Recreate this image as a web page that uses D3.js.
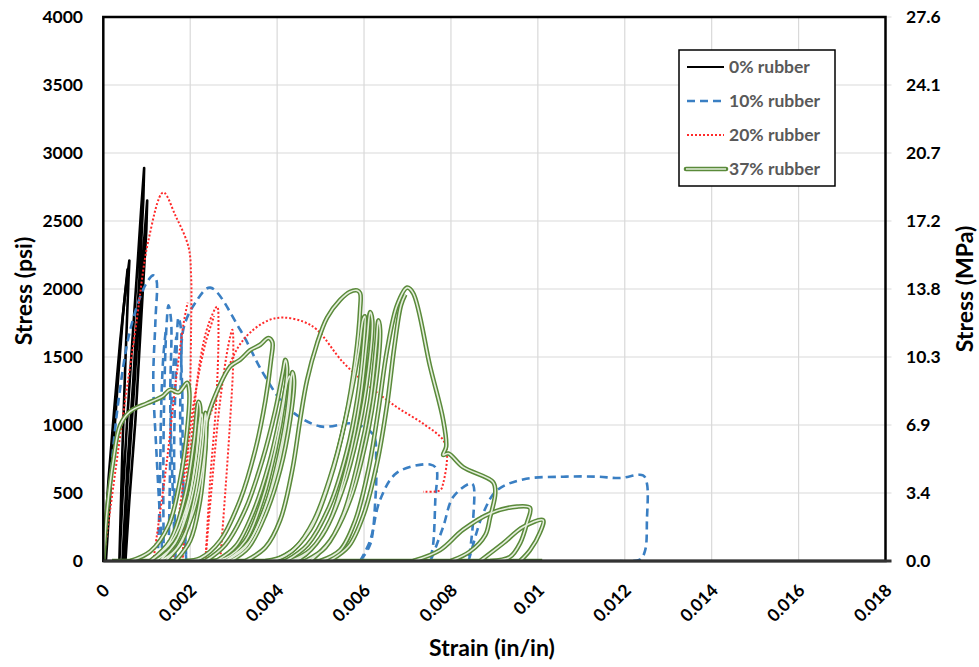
<!DOCTYPE html>
<html lang="en">
<head>
<meta charset="utf-8">
<title>Stress-strain curves</title>
<script src="https://cdn.jsdelivr.net/npm/d3@7"></script>
<style>
  body { margin: 0; background: #fff; }
  text { font-family: Lato, "Open Sans", sans-serif; font-weight: 700; }
</style>
</head>
<body>
<script>
var w = 979, h = 667;

// strain kept in microstrain, stress in psi
var strainTicks = [0, 2000, 4000, 6000, 8000, 10000, 12000, 14000, 16000, 18000];
var stressTicks = [0, 500, 1000, 1500, 2000, 2500, 3000, 3500, 4000];
var seriesNames = ["0% rubber", "10% rubber", "20% rubber", "37% rubber"];

var rubber0 = [
  [[0,0],[120,600],[250,1110],[390,1625],[510,1990],[600,2210],[580,2070],[510,1480],[440,820],[370,0],
   [440,450],[550,1040],[670,1625],[780,2140],[870,2580],[940,2890],[920,2650],[830,2070],[690,1330],[550,670],[440,0],
   [460,0],[550,520],[690,1180],[830,1850],[940,2360],[1010,2650],[990,2430],[870,1770],[740,1040],[600,450],[510,0]],
  [[60,0],[200,700],[330,1300],[450,1800],[560,2150]]
];

var rubber10 = [
  [[0,0],[160,600],[350,1180],[620,1700],[970,2030],[1150,2100],[1220,2070],[1200,1770],[1150,1330],[1220,820],[1310,300],[1380,0],
   [1380,600],[1400,1180],[1450,1700],[1500,1880],[1560,1770],[1540,1180],[1590,600],[1660,0],
   [1630,820],[1680,1480],[1730,1790],[1790,1700],[1770,1040],[1840,450],[1910,0],
   [1840,600],[1820,1180],[1840,1700],[2120,1900],[2460,2010],[3150,1700],[3680,1380],[4230,1130],[4990,990],[5750,1010],[6210,930],[6280,740],[6260,450],[6140,120],[5910,0]],
  [[5910,0],[6140,150],[6370,450],[6760,650],[7520,710],[7660,680],[7640,450],[7590,120],[7520,0],
   [7820,250],[8050,470],[8440,570],[8510,560],[8510,300],[8440,80],[8400,0],
   [8740,350],[9060,520],[9660,600],[10580,620],[11360,620],[11890,610],[12420,630],[12510,570],[12510,300],[12470,80],[12350,10],[11890,0]],
  [[1250,0],[1300,500],[1330,1100],[1380,1500],[1440,1700]],
  [[1500,0],[1530,550],[1560,1100],[1620,1450],[1680,1650]]
];

var rubber20 = [
  [[0,0],[160,380],[440,1040],[740,1700],[1040,2360],[1380,2710],[1660,2540],[1960,2310],[2020,2100],[2020,1700],[1980,1040],[1890,450],[1820,0]],
  [[1820,0],[1930,450],[2070,1040],[2230,1480],[2420,1740],[2620,1870],[2650,1700],[2600,1180],[2460,600],[2350,0]],
  [[2350,0],[2510,600],[2690,1180],[2880,1590],[2970,1700],[2990,1480],[2920,1040],[2810,520],[2690,0]],
  [[1470,0],[2000,600],[2400,1020],[2760,1330],[3100,1570],[3380,1680],[3800,1770],[4140,1790],[4600,1760],[4920,1700],[5520,1460],[6140,1280],[6760,1130],[7360,1010],[7820,890],[7910,790],[7820,570],[7750,520],[7360,510]],
  [[1150,0],[1450,700],[1680,1350],[1850,1750],[1940,1900]],
  [[1600,0],[1850,600],[2100,1200],[2350,1600],[2550,1800]]
];

var rubber37 = [
  [[200,0],[10100,0]],
  [[0,0],[90,380],[230,740],[390,1000],[620,1100],[1010,1160],[1360,1210],[1540,1260],[1730,1240],[1930,1310],[1980,1240],[1930,960],[1770,600],[1500,260],[1080,70],[620,0]],
  [[1080,0],[1540,150],[1890,490],[2090,890],[2190,1170],[2230,1130],[2160,820],[1960,450],[1590,150],[1080,0]],
  [[1200,0],[1650,130],[1950,420],[2130,760],[2230,1050],[2270,1080],[2210,800],[2020,450],[1700,160],[1300,0]],
  [[1430,0],[1820,150],[2120,490],[2280,850],[2350,1090],[2370,1000],[2280,670],[2050,340],[1660,80],[1310,0]],
  [[1660,0],[2000,150],[2230,450],[2350,820],[2390,1040],[2580,1220],[2920,1430],[3150,1480],[3380,1550],[3610,1590],[3800,1640],[3890,1610],[3860,1480],[3730,1180],[3500,820],[3150,450],[2690,150],[2230,20],[1890,0]],
  [[2350,0],[2810,120],[3270,380],[3660,740],[3960,1110],[4140,1400],[4190,1480],[4230,1420],[4160,1180],[3960,820],[3660,450],[3270,150],[2810,20],[2460,0]],
  [[2600,0],[3050,110],[3450,360],[3820,720],[4080,1080],[4240,1330],[4290,1360],[4250,1150],[4050,780],[3750,420],[3350,140],[2800,0]],
  [[2810,0],[3270,100],[3660,340],[4000,670],[4260,1110],[4350,1390],[4390,1330],[4300,1040],[4070,670],[3730,340],[3340,100],[2920,0]],
  [[3270,0],[3730,100],[4070,300],[4350,670],[4530,1040],[4690,1330],[4920,1600],[5150,1790],[5450,1920],[5680,1980],[5840,1990],[5910,1970],[5910,1850],[5800,1480],[5570,1040],[5220,600],[4760,230],[4190,40],[3730,0]],
  [[3900,0],[4400,90],[4850,300],[5300,700],[5650,1150],[5880,1550],[5980,1780],[6020,1800],[5990,1600],[5850,1200],[5600,800],[5200,400],[4700,120],[4200,0]],
  [[4300,0],[4760,80],[5220,300],[5640,740],[5910,1180],[6070,1630],[6140,1830],[6190,1770],[6100,1400],[5870,960],[5500,520],[5040,190],[4530,20],[4190,0]],
  [[4650,0],[5110,100],[5520,340],[5870,740],[6140,1180],[6280,1590],[6330,1770],[6370,1700],[6280,1330],[6050,890],[5680,450],[5220,150],[4760,0]],
  [[4990,0],[5450,80],[5800,300],[6100,670],[6330,1110],[6530,1550],[6760,1880],[6990,2010],[7130,1970],[7520,1430],[7820,1040],[7890,840],[7820,780],[7940,790],[8280,690],[8970,580],[9020,500],[8900,320],[8790,190],[8440,70],[8000,0]],
  [[5200,0],[5650,110],[6000,350],[6300,720],[6530,1150],[6700,1580],[6850,1880],[6950,1960]],
  [[7130,0],[7750,80],[8280,230],[8900,350],[9520,400],[9820,390],[9750,280],[9590,130],[9360,30],[8900,0]],
  [[8670,0],[9200,130],[9660,250],[10120,300],[10050,210],[9820,80],[9590,0]]
];

var plotL = 103.3, plotR = 885.5, plotT = 17, plotB = 561;

var x = d3.scaleLinear().domain([0, 18000]).range([plotL, plotR]);
var y = d3.scaleLinear().domain([0, 4000]).range([plotB, plotT]);

var svg = d3.select("body").append("svg")
  .attr("width", w).attr("height", h);

svg.append("rect").attr("width", w).attr("height", h).attr("fill", "#fff");

// gridlines
svg.append("g").selectAll("line").data(strainTicks).enter().append("line")
  .attr("x1", d => x(d)).attr("x2", d => x(d))
  .attr("y1", plotT).attr("y2", plotB)
  .attr("stroke", "#d9d9d9").attr("stroke-width", 1.2);

svg.append("g").selectAll("line").data(stressTicks).enter().append("line")
  .attr("x1", plotL).attr("x2", plotR + 6)
  .attr("y1", d => y(d)).attr("y2", d => y(d))
  .attr("stroke", "#d9d9d9").attr("stroke-width", 1.2);

svg.append("defs").append("clipPath").attr("id", "plot")
  .append("rect").attr("x", plotL).attr("y", plotT)
  .attr("width", plotR - plotL).attr("height", plotB - plotT);

var smooth = d3.line().x(d => x(d[0])).y(d => y(d[1]))
  .curve(d3.curveCatmullRom.alpha(0.5));
var straight = d3.line().x(d => x(d[0])).y(d => y(d[1]));

var plot = svg.append("g").attr("clip-path", "url(#plot)");

var styles = [
  { data: rubber0, gen: straight, stroke: "#000", width: 2.6, dash: null },
  { data: rubber10, gen: smooth, stroke: "#3a7fc3", width: 2.6, dash: "8,5" },
  { data: rubber20, gen: smooth, stroke: "#ff2a2a", width: 2, dash: "2,2" }
];

styles.forEach(function(s) {
  plot.append("g").selectAll("path").data(s.data).enter().append("path")
    .attr("d", s.gen)
    .attr("fill", "none")
    .attr("stroke", s.stroke)
    .attr("stroke-width", s.width)
    .attr("stroke-dasharray", s.dash)
    .attr("stroke-linejoin", "round");
});

// double green line
plot.append("g").selectAll("path").data(rubber37).enter().append("path")
  .attr("d", smooth).attr("fill", "none")
  .attr("stroke", "#5a8a3a").attr("stroke-width", 4.6).attr("stroke-linejoin", "round");
plot.append("g").selectAll("path").data(rubber37).enter().append("path")
  .attr("d", smooth).attr("fill", "none")
  .attr("stroke", "#e4eedc").attr("stroke-width", 1.6).attr("stroke-linejoin", "round");

// plot border
svg.append("rect").attr("x", plotL).attr("y", plotT)
  .attr("width", plotR - plotL).attr("height", plotB - plotT)
  .attr("fill", "none").attr("stroke", "#000").attr("stroke-width", 2.5);
svg.append("line").attr("x1", plotL).attr("x2", plotR + 6)
  .attr("y1", plotB).attr("y2", plotB)
  .attr("stroke", "#333").attr("stroke-width", 3);

// left axis labels
svg.append("g").selectAll("text").data(stressTicks).enter().append("text")
  .attr("x", 83).attr("y", d => y(d)).attr("dy", "0.36em")
  .attr("text-anchor", "end").attr("font-size", 17.5).attr("fill", "#000")
  .text(d => d);

// right axis labels (MPa)
svg.append("g").selectAll("text").data(stressTicks).enter().append("text")
  .attr("x", 906).attr("y", d => y(d)).attr("dy", "0.36em")
  .attr("text-anchor", "start").attr("font-size", 17.5).attr("fill", "#000")
  .text(d => (d * 0.00689476).toFixed(1));

// x axis labels, rotated
svg.append("g").selectAll("text").data(strainTicks).enter().append("text")
  .attr("transform", d => "translate(" + (x(d) + 3) + "," + 587 + ") rotate(-45)")
  .attr("text-anchor", "end").attr("dy", "0.36em")
  .attr("font-size", 17.5).attr("fill", "#000")
  .text(d => +(d / 1e6).toFixed(3));

// axis titles
svg.append("text").attr("x", 492).attr("y", 656)
  .attr("text-anchor", "middle").attr("font-size", 23).text("Strain (in/in)");
svg.append("text").attr("transform", "translate(24,291) rotate(-90)")
  .attr("text-anchor", "middle").attr("dy", "0.36em").attr("font-size", 23).text("Stress (psi)");
svg.append("text").attr("transform", "translate(965,289) rotate(-90)")
  .attr("text-anchor", "middle").attr("dy", "0.36em").attr("font-size", 23).text("Stress (MPa)");

// legend
var lg = svg.append("g");
lg.append("rect").attr("x", 679).attr("y", 50).attr("width", 156).attr("height", 136)
  .attr("fill", "#fff").attr("stroke", "#000").attr("stroke-width", 1.5);
var rowY = [67, 101, 135, 169];
seriesNames.forEach(function(name, i) {
  var yy = rowY[i];
  if (i === 3) {
    lg.append("line").attr("x1", 686).attr("x2", 726).attr("y1", yy).attr("y2", yy)
      .attr("stroke", "#5a8a3a").attr("stroke-width", 4.6).attr("stroke-linecap", "round");
    lg.append("line").attr("x1", 686).attr("x2", 726).attr("y1", yy).attr("y2", yy)
      .attr("stroke", "#e4eedc").attr("stroke-width", 1.6);
  } else {
    var s = styles[i];
    lg.append("line").attr("x1", 687).attr("x2", 724).attr("y1", yy).attr("y2", yy)
      .attr("stroke", s.stroke).attr("stroke-width", i === 0 ? 1.8 : s.width)
      .attr("stroke-dasharray", s.dash);
  }
  lg.append("text").attr("x", 729).attr("y", yy).attr("dy", "0.36em")
    .attr("font-size", 17.5).attr("fill", "#595959").text(name);
});
</script>
</body>
</html>
